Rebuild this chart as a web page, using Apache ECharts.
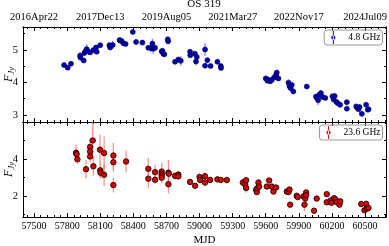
<!DOCTYPE html>
<html><head><meta charset="utf-8">
<script src="https://cdn.jsdelivr.net/npm/echarts@6/dist/echarts.min.js"></script>
<style>html,body{margin:0;padding:0;background:#fff}#c{width:389px;height:246px}</style>
</head><body><div id="c"></div>
<script>
// 4.8 GHz light curve
const mjd5 = [57772,57805,57835,57917,57921,57950,57956,57965,57977,57985,58008,58038,58062,58068,58100,58183,58190,58213,58275,58282,58294,58310,58330,58395,58425,58482,58536,58560,58573,58580,58597,58657,58664,58672,58681,58712,58715,58778,58808,58830,58914,58916,58958,58968,58975,59050,59050,59071,59100,59162,59193,59195,59600,59615,59625,59640,59655,59676,59694,59700,59715,59806,59815,59826,59836,59850,59972,60055,60063,60075,60085,60100,60115,60140,60205,60215,60225,60240,60253,60274,60335,60335,60420,60430,60440,60450,60471,60510,60525,60532];
const flux5 = [4.53,4.45,4.57,4.82,4.76,4.67,4.90,4.95,5.02,4.96,4.92,4.99,5.07,4.94,5.14,5.14,5.07,5.15,5.30,5.28,5.27,5.20,5.18,5.55,5.24,5.22,5.06,5.05,5.19,5.03,5.06,4.95,4.97,4.88,4.86,5.32,5.26,4.63,4.70,4.66,4.94,4.83,4.88,4.64,4.78,5.01,4.51,4.68,4.50,4.63,4.50,4.44,4.12,4.05,4.08,4.03,4.07,4.15,4.23,4.30,4.12,3.99,3.88,3.82,3.92,3.72,3.87,3.56,3.52,3.45,3.62,3.67,3.55,3.52,3.57,3.47,3.58,3.40,3.36,3.31,3.39,3.19,3.26,3.22,3.17,3.24,3.03,3.31,3.16,3.17];
const err5 = [0.03,0.03,0.03,0.12,0.08,0.05,0.08,0.10,0.15,0.06,0.05,0.06,0.08,0.06,0.05,0.10,0.08,0.13,0.06,0.05,0.05,0.06,0.05,0.03,0.08,0.05,0.05,0.12,0.15,0.15,0.08,0.07,0.05,0.08,0.05,0.06,0.08,0.05,0.05,0.15,0.08,0.05,0.05,0.12,0.06,0.20,0.07,0.05,0.04,0.04,0.05,0.05,0.08,0.07,0.10,0.05,0.06,0.06,0.10,0.05,0.06,0.10,0.05,0.10,0.05,0.05,0.03,0.05,0.06,0.15,0.05,0.06,0.06,0.04,0.07,0.05,0.05,0.05,0.04,0.04,0.04,0.05,0.05,0.04,0.05,0.04,0.04,0.04,0.04,0.03];
// 23.6 GHz light curve
const mjd23 = [57881,57886,57893,57971,58008,58008,58008,58032,58038,58098,58100,58103,58135,58135,58219,58219,58219,58334,58536,58536,58597,58597,58657,58657,58657,58657,58718,58722,58718,58778,58808,58808,58914,58960,59000,59005,59050,59050,59096,59162,59193,59247,59392,59414,59422,59422,59513,59519,59525,59534,59540,59610,59631,59655,59670,59694,59791,59806,59815,59821,59881,59890,59942,59951,59958,59966,59966,60038,60062,60153,60153,60189,60195,60220,60232,60244,60268,60275,60465,60510,60495,60515,60531];
const flux23 = [4.33,4.25,3.98,3.44,4.65,4.40,4.13,5.00,3.60,4.50,3.38,3.25,4.32,3.14,4.18,3.82,2.58,3.86,3.46,2.93,3.28,2.87,3.31,3.20,3.10,2.98,3.25,3.20,2.63,3.08,3.15,3.05,2.75,2.54,3.02,2.86,3.06,2.72,2.86,2.89,2.86,2.85,2.72,2.62,2.84,2.42,2.32,2.20,2.42,2.72,2.50,2.50,2.83,2.50,2.23,2.45,2.23,2.20,2.34,1.52,2.00,1.93,1.97,1.52,1.85,2.18,2.03,1.19,1.85,2.09,1.65,1.75,1.62,1.87,1.80,1.65,1.52,1.70,1.55,1.56,1.22,1.30,1.34];
const err23 = [0.45,0.30,0.25,0.50,0.40,0.35,0.30,1.00,0.50,0.80,0.40,0.30,0.90,0.60,0.70,0.50,0.40,0.60,0.60,0.50,0.40,0.20,0.50,0.30,0.30,0.30,0.70,0.30,0.50,0.20,0.20,0.15,0.15,0.12,0.20,0.20,0.20,0.20,0.15,0.15,0.12,0.12,0.20,0.30,0.15,0.25,0.20,0.10,0.10,0.15,0.10,0.10,0.10,0.10,0.10,0.12,0.10,0.12,0.12,0.15,0.10,0.10,0.10,0.35,0.10,0.15,0.10,0.12,0.12,0.10,0.10,0.10,0.10,0.10,0.10,0.10,0.08,0.08,0.08,0.08,0.08,0.08,0.08];
// ticks
const xMajor = [57500,57800,58100,58400,58700,59000,59300,59600,59900,60200,60500];
const xMinor = [57440,57560,57620,57680,57740,57860,57920,57980,58040,58160,58220,58280,58340,58460,58520,58580,58640,58760,58820,58880,58940,59060,59120,59180,59240,59360,59420,59480,59540,59660,59720,59780,59840,59960,60020,60080,60140,60260,60320,60380,60440,60560,60620,60680];
const dateTicks = [57500,58100,58700,59300,59900,60500];
const dateLabels = ['2016Apr22','2017Dec13','2019Aug05','2021Mar27','2022Nov17','2024Jul09'];
const yMajorTop = [3,4,5], yMinorTop = [3.5,4.5,5.5];
const yMajorBot = [2,4], yMinorBot = [1,3,5];

const FONT = 'Liberation Serif';
const X0 = 57400, X1 = 60690;
const TY0 = 2.78, TY1 = 5.7, BY0 = 0.85, BY1 = 6.0;

function xAx(grid, pos, ticks, len, label) {
  return {type:'value', gridIndex:grid, position:pos, min:X0, max:X1,
    axisLine:{show:true, onZero:false, lineStyle:{color:'#000', width:1}},
    axisTick:{show:true, inside:true, length:len, customValues:ticks, lineStyle:{color:'#000', width:1}},
    axisLabel: label || {show:false},
    splitLine:{show:false}};
}
function yAx(grid, pos, lo, hi, ticks, len, label, extra) {
  return Object.assign({type:'value', gridIndex:grid, position:pos, min:lo, max:hi,
    axisLine:{show:true, onZero:false, lineStyle:{color:'#000', width:1}},
    axisTick:{show:true, inside:true, length:len, customValues:ticks, lineStyle:{color:'#000', width:1}},
    axisLabel: label || {show:false},
    splitLine:{show:false}}, extra || {});
}
const yName = {
  name:'{f|F}{s|Jy}', nameLocation:'middle', nameGap:6, nameRotate:90, nameMoveOverlap:false,
  nameTextStyle:{rich:{
    f:{fontFamily:FONT, fontStyle:'italic', fontSize:12, color:'#000', lineHeight:16},
    s:{fontFamily:FONT, fontStyle:'italic', fontSize:8.5, color:'#000', lineHeight:16, padding:[5,0,0,0]}
  }}
};
const lbl = (vals, extra) => Object.assign({show:true, customValues:vals, fontFamily:FONT, fontSize:10, color:'#000',
  hideOverlap:false, formatter:v => String(v)}, extra||{});

const xAxes = [
  xAx(0,'bottom',xMajor,4),
  xAx(0,'bottom',xMinor,2),
  xAx(0,'top',xMajor,4, lbl(dateTicks,{margin:4, fontSize:10.5, formatter:v => dateLabels[dateTicks.indexOf(Math.round(v))] || ''})),
  xAx(0,'top',xMinor,2),
  Object.assign(xAx(1,'bottom',xMajor,4, lbl(xMajor,{margin:4})), {name:'MJD', nameLocation:'middle', nameGap:18, nameMoveOverlap:false, nameTextStyle:{fontFamily:FONT, fontSize:11, color:'#000'}}),
  xAx(1,'bottom',xMinor,2),
  xAx(1,'top',xMajor,4),
  xAx(1,'top',xMinor,2)
];
const yAxes = [
  yAx(0,'left',TY0,TY1,yMajorTop,4, lbl(yMajorTop,{margin:5, fontSize:10.5}), yName),
  yAx(0,'left',TY0,TY1,yMinorTop,2),
  yAx(0,'right',TY0,TY1,yMajorTop,4),
  yAx(0,'right',TY0,TY1,yMinorTop,2),
  yAx(1,'left',BY0,BY1,yMajorBot,4, lbl(yMajorBot,{margin:5, fontSize:10.5}), yName),
  yAx(1,'left',BY0,BY1,yMinorBot,2),
  yAx(1,'right',BY0,BY1,yMajorBot,4),
  yAx(1,'right',BY0,BY1,yMinorBot,2)
];

function errSeries(xs, ys, es, xi, yi, color) {
  return {type:'custom', xAxisIndex:xi, yAxisIndex:yi, silent:true, z:2,
    data: xs.map((m,i) => [m, ys[i]-es[i], ys[i]+es[i]]),
    encode:{x:0, y:[1,2]},
    renderItem:(params, api) => {
      const a = api.coord([api.value(0), api.value(1)]);
      const b = api.coord([api.value(0), api.value(2)]);
      return {type:'line', shape:{x1:a[0], y1:a[1], x2:b[0], y2:b[1]}, style:{stroke:color, lineWidth:1.3}};
    }};
}
const iconBar = 'path://M4.4,0h1.2v16h-1.2z M5,5.5a2.6,2.6 0 1,0 0.001,0z';
const legendBase = {orient:'vertical', icon:iconBar, itemWidth:10, itemHeight:13,
  padding:[1,2,1,7], itemGap:0, borderColor:'#999', borderWidth:1, borderRadius:3,
  itemStyle:{borderWidth:0},
  textStyle:{fontFamily:FONT, fontSize:9.5, color:'#000', padding:[0,0,0,5]}};

const chart = echarts.init(document.getElementById('c'), null, {renderer:'canvas'});
chart.setOption({
  animation:false,
  backgroundColor:'#fff',
  title:{text:'OS 319', left:204, top:-1, textAlign:'center', padding:0, textStyle:{fontFamily:FONT, fontSize:11, fontWeight:'normal', color:'#000'}},
  grid:[{left:23, right:3, top:27, height:95, outerBoundsMode:'none', containLabel:false},
        {left:23, right:3, top:122, height:95, outerBoundsMode:'none', containLabel:false}],
  xAxis: xAxes,
  yAxis: yAxes,
  legend:[
    Object.assign({data:['4.8 GHz'], right:6.5, top:30}, legendBase),
    Object.assign({data:['23.6 GHz'], right:6.5, top:125}, legendBase)
  ],
  series:[
    errSeries(mjd5, flux5, err5, 0, 0, 'rgba(110,110,255,0.8)'),
    {type:'scatter', name:'4.8 GHz', xAxisIndex:0, yAxisIndex:0, z:3, symbolSize:5,
     data: mjd5.map((m,i) => [m, flux5[i]]),
     itemStyle:{color:'#0000b4', borderColor:'#00004a', borderWidth:0.6, opacity:1}},
    errSeries(mjd23, flux23, err23, 4, 4, 'rgba(255,110,110,0.75)'),
    {type:'scatter', name:'23.6 GHz', xAxisIndex:4, yAxisIndex:4, z:3, symbolSize:5.5,
     data: mjd23.map((m,i) => [m, flux23[i]]),
     itemStyle:{color:'#dd0000', borderColor:'#000', borderWidth:0.8, opacity:1}}
  ]
});
</script></body></html>
